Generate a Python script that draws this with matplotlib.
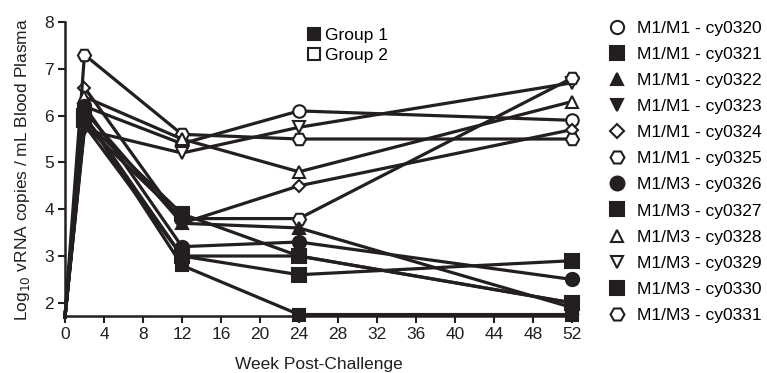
import matplotlib
matplotlib.use("Agg")
import matplotlib.pyplot as plt
from matplotlib.lines import Line2D

plt.rcParams["font.family"] = ["Liberation Sans", "DejaVu Sans"]

INK = "#231f20"

# Viral load (log10 vRNA copies / mL) per animal at each sampling week
weeks = [0, 2, 12, 24, 52]
animals = ["cy0320", "cy0321", "cy0322", "cy0323", "cy0324", "cy0325",
           "cy0326", "cy0327", "cy0328", "cy0329", "cy0330", "cy0331"]
regimens = ["M1/M1"] * 6 + ["M1/M3"] * 6
cy0320 = [1.7, 6.2, 5.4, 6.1, 5.9]
cy0321 = [1.7, 6.0, 2.8, 1.75, 1.75]
cy0322 = [1.7, 6.1, 3.7, 3.6, 1.9]
cy0323 = [1.7, 5.8, 3.0, 3.0, 2.0]
cy0324 = [1.7, 6.6, 3.7, 4.5, 5.7]
cy0325 = [1.7, 7.3, 5.6, 5.5, 5.5]
cy0326 = [1.7, 6.2, 3.2, 3.3, 2.5]
cy0327 = [1.7, 5.9, 3.9, 3.0, 2.0]
cy0328 = [1.7, 6.4, 5.5, 4.8, 6.3]
cy0329 = [1.7, 5.7, 5.2, 5.75, 6.7]
cy0330 = [1.7, 6.0, 3.0, 2.6, 2.9]
cy0331 = [1.7, 5.8, 3.8, 3.8, 6.8]
series = [cy0320, cy0321, cy0322, cy0323, cy0324, cy0325,
          cy0326, cy0327, cy0328, cy0329, cy0330, cy0331]

# marker shape and fill for each animal (filled = Group 1, open = Group 2)
markers = ["o", "s", "^", "v", "D", "H", "o", "s", "^", "v", "s", "H"]
filled = [False, True, True, True, False, False,
          True, True, False, False, True, False]
sizes = [9, 9, 8, 8, 6.5, 9.5, 9.5, 9.5, 8, 8, 9.5, 9.5]

fig = plt.figure(figsize=(7.67, 3.73), dpi=100)
ax = fig.add_axes([0.0847, 0.153, 0.661, 0.788])

# open-marker lines first so the filled ones sit on top
order = [i for i in range(12) if not filled[i]] + [i for i in range(12) if filled[i]]
for i in order:
    ax.plot(weeks, series[i], color=INK, lw=2.3, marker=markers[i],
            ms=sizes[i], mew=1.5, mec=INK,
            mfc=INK if filled[i] else "white",
            markevery=slice(1, None), clip_on=False, zorder=3 if filled[i] else 2)

ax.set_xlim(0, 52)
ax.set_ylim(1.72, 8)
ax.set_xticks(range(0, 53, 4))
ax.set_yticks(range(2, 9))
for s in ["top", "right"]:
    ax.spines[s].set_visible(False)
for s in ["left", "bottom"]:
    ax.spines[s].set_linewidth(1.8)
    ax.spines[s].set_color(INK)
ax.tick_params(direction="out", length=5, width=1.5, colors=INK,
               labelsize=12.5, pad=3)
ax.set_xlabel("Week Post-Challenge", fontsize=12.5, color=INK, labelpad=11)
ax.set_ylabel("Log$_{10}$ vRNA copies / mL Blood Plasma", fontsize=12.5,
              color=INK, labelpad=9)

# group key inside the plot
group_handles = [
    Line2D([], [], ls="none", marker="s", ms=9, mfc=INK, mec=INK, mew=1.5),
    Line2D([], [], ls="none", marker="s", ms=9, mfc="white", mec=INK, mew=1.5),
]
fig.legend(group_handles, ["Group 1", "Group 2"], loc="upper left",
           bbox_to_anchor=(0.393, 0.944), frameon=False, fontsize=12.5,
           handlelength=0.7, handletextpad=0.25, labelspacing=0.28,
           borderaxespad=0)

# animal key on the right
animal_handles = [
    Line2D([], [], ls="none", marker=markers[i], ms=sizes[i] + 0.5,
           mfc=INK if filled[i] else "white", mec=INK, mew=1.5)
    for i in range(12)
]
animal_labels = [f"{r} - {a}" for r, a in zip(regimens, animals)]
fig.legend(animal_handles, animal_labels, loc="upper left",
           bbox_to_anchor=(0.785, 0.963), frameon=False, fontsize=12.5,
           handlelength=0.9, handletextpad=0.7, labelspacing=0.63,
           borderaxespad=0)

fig.savefig("out.png", dpi=100)
